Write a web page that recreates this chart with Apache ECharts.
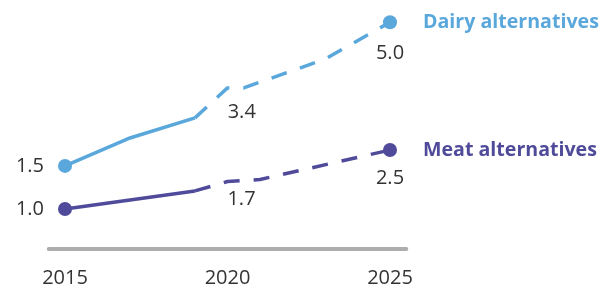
<!DOCTYPE html>
<html>
<head>
<meta charset="utf-8">
<script src="https://cdn.jsdelivr.net/npm/echarts@6/dist/echarts.min.js"></script>
<style>
  html, body { margin: 0; padding: 0; background: #fff; }
  #chart { width: 602px; height: 289px; }
</style>
</head>
<body>
<div id="chart"></div>
<script>
// x positions (years) and values
const tickYears = [2015, 2020, 2025];

const dairyYears = [2015, 2017, 2019, 2020, 2020.5, 2023, 2025];
const dairyValues = [1.5, 2.18, 2.67, 3.4, 3.4, 4.1, 5.0];
const dairySolidEnd = 2; // index where the line turns dashed (forecast)

const meatYears = [2015, 2019, 2020, 2021, 2025];
const meatValues = [1.0, 1.46, 1.7, 1.75, 2.5];
const meatSolidEnd = 1;

const dairyName = 'Dairy alternatives';
const meatName = 'Meat alternatives';

const dairyColor = '#5aa7dc';
const meatColor = '#4f4b9a';
const textColor = '#333';
const font = '"Open Sans", "Noto Sans", sans-serif';

// which points get a value label, and how it sits
const dairyLabelAt = {
  2015: { position: 'left', distance: 14 },
  2020.5: { position: 'bottom', distance: 14, offset: [-2, 0] },
  2025: { position: 'bottom', distance: 14 }
};
const meatLabelAt = {
  2015: { position: 'left', distance: 14 },
  2020: { position: 'bottom', distance: 8, offset: [14, 0] },
  2025: { position: 'bottom', distance: 11 }
};
const dotYears = [2015, 2025];

function buildPoints(years, values, labelAt) {
  return years.map((yr, i) => {
    const item = {
      value: [yr, values[i]],
      symbolSize: dotYears.includes(yr) ? 14 : 0
    };
    if (labelAt[yr]) {
      item.label = Object.assign({
        show: true,
        color: textColor,
        fontSize: 20,
        fontFamily: font,
        formatter: p => p.value[1].toFixed(1)
      }, labelAt[yr]);
    }
    return item;
  });
}

const dairyPts = buildPoints(dairyYears, dairyValues, dairyLabelAt);
const meatPts = buildPoints(meatYears, meatValues, meatLabelAt);

function lineSeries(name, data, color, yIdx, dashed, endName) {
  const s = {
    name: name,
    type: 'line',
    yAxisIndex: yIdx,
    data: data,
    symbol: 'circle',
    showSymbol: true,
    silent: true,
    animation: false,
    itemStyle: { color: color },
    lineStyle: { color: color, width: 3.5, type: dashed ? [16, 14] : 'solid', cap: 'butt' },
    z: dashed ? 2 : 3
  };
  if (endName) {
    s.endLabel = {
      show: true,
      formatter: endName,
      color: color,
      fontSize: 19.6,
      fontWeight: 'bold',
      fontFamily: font,
      distance: 33
    };
  }
  return s;
}

const chart = echarts.init(document.getElementById('chart'), null, { renderer: 'canvas' });

chart.setOption({
  backgroundColor: '#fff',
  animation: false,
  grid: {
    left: 48.75,
    right: 195.75,
    top: 12.5,
    bottom: 40.7,
    outerBoundsMode: 'none'
  },
  xAxis: {
    type: 'value',
    min: 2014.5,
    max: 2025.5,
    splitLine: { show: false },
    axisTick: { show: false },
    axisLine: { show: true, lineStyle: { color: '#adadad', width: 4 } },
    axisLabel: {
      customValues: tickYears,
      color: textColor,
      fontSize: 20,
      fontFamily: font,
      margin: 20,
      formatter: v => String(v)
    }
  },
  yAxis: [
    { type: 'value', min: 0, max: 6, show: false },
    // dairy line sits on its own scale in the original
    { type: 'value', min: -0.508, max: 5.237, show: false }
  ],
  series: [
    lineSeries(dairyName + ' (actual)', dairyPts.slice(0, dairySolidEnd + 1), dairyColor, 1, false),
    lineSeries(dairyName, dairyPts.slice(dairySolidEnd), dairyColor, 1, true, dairyName),
    lineSeries(meatName + ' (actual)', meatPts.slice(0, meatSolidEnd + 1), meatColor, 0, false),
    lineSeries(meatName, meatPts.slice(meatSolidEnd), meatColor, 0, true, meatName)
  ]
});
</script>
</body>
</html>
